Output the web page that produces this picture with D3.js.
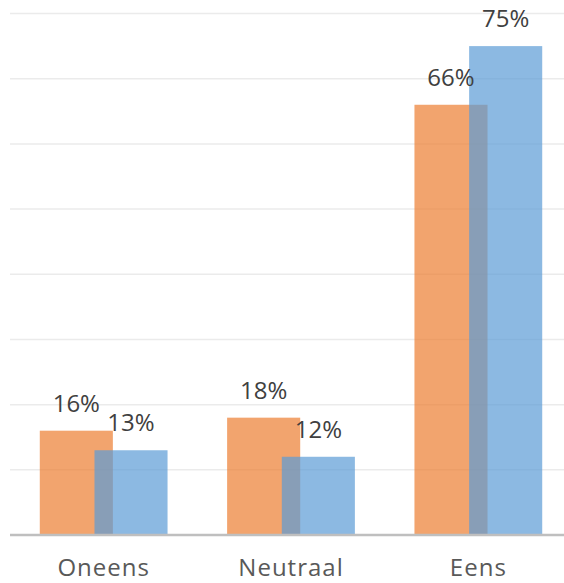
<!DOCTYPE html>
<html>
<head>
<meta charset="utf-8">
<script src="https://cdn.jsdelivr.net/npm/d3@7"></script>
<style>
  html, body { margin: 0; padding: 0; background: #fff; }
  svg { display: block; }
  text { font-family: "Open Sans", "Noto Sans", sans-serif; }
</style>
</head>
<body>
<svg id="chart" width="564" height="583"></svg>
<script>
const categories = ["Oneens", "Neutraal", "Eens"];
const seriesA = [0.16, 0.18, 0.66];   // orange
const seriesB = [0.13, 0.12, 0.75];   // blue
const gridTicks = [0.1, 0.2, 0.3, 0.4, 0.5, 0.6, 0.7, 0.8];

(function () {
const svg = d3.select("#chart");
const W = 564;
const plotLeft = 10, plotRight = 572, base = 535, plotTop = 13.5;

const pad = 0.318;
const x = d3.scaleBand().domain(categories).range([plotLeft, plotRight])
  .paddingInner(pad).paddingOuter(pad / 2);
const y = d3.scaleLinear().domain([0, 0.8]).range([base, plotTop]);

const bw = x.bandwidth() * 0.572;
const offB = x.bandwidth() - bw;

// gridlines
svg.append("g").selectAll("line").data(gridTicks).join("line")
  .attr("x1", plotLeft).attr("x2", W)
  .attr("y1", d => y(d)).attr("y2", d => y(d))
  .attr("stroke", "#ebebeb").attr("stroke-width", 1.5);

const fmt = d3.format(".0%");

// orange bars
svg.append("g").selectAll("rect").data(seriesA).join("rect")
  .attr("x", (d, i) => x(categories[i]))
  .attr("y", d => y(d))
  .attr("width", bw)
  .attr("height", d => base - y(d))
  .attr("fill", "#ED7D31").attr("fill-opacity", 0.7);

// blue bars
svg.append("g").selectAll("rect").data(seriesB).join("rect")
  .attr("x", (d, i) => x(categories[i]) + offB)
  .attr("y", d => y(d))
  .attr("width", bw)
  .attr("height", d => base - y(d))
  .attr("fill", "#5B9BD5").attr("fill-opacity", 0.7);

// baseline axis
const xAxis = d3.axisBottom(x).tickSize(0).tickPadding(0);
const ax = svg.append("g").attr("transform", `translate(0,${base})`).call(xAxis);
ax.select(".domain").remove();
ax.append("line").attr("x1", plotLeft).attr("x2", W).attr("y1", 0).attr("y2", 0)
  .attr("stroke", "#bfbfbf").attr("stroke-width", 2.5);
ax.selectAll(".tick text")
  .attr("y", 41).attr("dy", 0)
  .attr("font-size", 24)
  .attr("letter-spacing", 1)
  .attr("fill", "#595959")
  .attr("font-family", "'Open Sans', sans-serif");

// data labels
svg.append("g").selectAll("text").data(seriesA).join("text")
  .attr("x", (d, i) => x(categories[i]) + bw / 2)
  .attr("y", d => y(d) - 19)
  .attr("text-anchor", "middle")
  .attr("font-size", 24).attr("fill", "#404040")
  .text(d => fmt(d));
svg.append("g").selectAll("text").data(seriesB).join("text")
  .attr("x", (d, i) => x(categories[i]) + offB + bw / 2)
  .attr("y", d => y(d) - 19)
  .attr("text-anchor", "middle")
  .attr("font-size", 24).attr("fill", "#404040")
  .text(d => fmt(d));
})();
</script>
</body>
</html>
